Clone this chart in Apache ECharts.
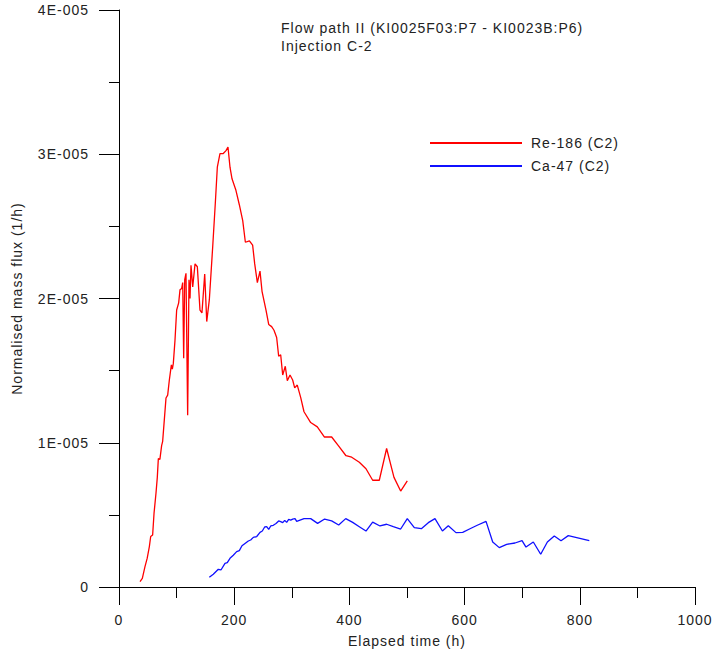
<!DOCTYPE html>
<html>
<head>
<meta charset="utf-8">
<script src="https://cdn.jsdelivr.net/npm/echarts@6/dist/echarts.min.js"></script>
<style>
  html, body { margin: 0; padding: 0; background: #fff; }
  #chart { width: 712px; height: 656px; }
  /* slightly tracked lettering for every label in the chart */
  #chart text { letter-spacing: 1px; }
</style>
</head>
<body>
<div id="chart"></div>
<script>
// Mass flux values are given in units of 1E-006 (1/h)
const FLUX_UNIT = 1e-6;

// Re-186 (C2)
const reTime = [36.5, 40.5, 45, 49, 52.7, 55, 58.4, 60.8, 64.2, 66.5, 68.3, 71, 74, 75.8, 78.7, 81.6, 84.5, 87.4, 90.9, 92.6, 94.3, 97.2, 100.1, 103.6, 105.9, 108.8, 110.6, 112.3, 114.1, 116.3, 119.2, 121.5, 123.3, 125, 128, 132, 136, 140.6, 144, 148.8, 152.3, 156.8, 162.7, 167.2, 170.7, 175.3, 181, 185.8, 189.2, 192.7, 196.2, 203, 208.9, 214.8, 219.4, 226.4, 232, 235.6, 240.2, 244.8, 248.3, 255.2, 259.9, 265, 269.1, 273.7, 277.2, 280.7, 284.2, 288.7, 292.2, 296.9, 301.5, 305, 309.5, 315.4, 321.2, 332.8, 344.3, 356.4, 369.2, 380.8, 394.1, 404, 417.2, 428.8, 440.4, 451.9, 464.6, 477.4, 489, 500.5];
const reFlux = [0.37, 0.6, 1.4, 2.0, 2.8, 3.5, 3.6, 5.1, 6.5, 7.6, 8.9, 8.85, 9.8, 10.1, 11.6, 13.1, 13.3, 14.35, 15.4, 15.1, 15.5, 17.1, 19.2, 19.7, 20.6, 20.7, 21.1, 15.85, 21.3, 21.75, 11.9, 21.3, 20.0, 22.3, 20.8, 22.4, 22.2, 19.2, 19.0, 21.7, 18.4, 19.9, 23.6, 26.6, 29.1, 30.05, 30.05, 30.25, 30.5, 29.1, 28.3, 27.5, 26.5, 25.4, 23.9, 24.0, 23.7, 22.4, 21.1, 21.9, 20.5, 19.2, 18.2, 18.05, 17.8, 17.3, 16.0, 16.1, 14.7, 15.3, 14.3, 14.7, 14.35, 13.8, 14.0, 13.15, 12.15, 11.4, 11.1, 10.4, 10.4, 9.8, 9.1, 9.0, 8.65, 8.2, 7.4, 7.4, 9.6, 7.6, 6.65, 7.35];

// Ca-47 (C2)
const caTime = [156.8, 163.7, 172.4, 177, 184, 188, 192.7, 198.4, 204.3, 208.9, 213.5, 218.8, 224.5, 228.6, 233.2, 239.1, 244.8, 248.8, 252.9, 256.4, 259.9, 263.4, 267.9, 272.6, 277.2, 280.7, 284.2, 287.7, 291.1, 294.6, 298.1, 301.6, 305.6, 308.5, 321.2, 332.8, 344.8, 357, 369.2, 381.4, 393.6, 405.7, 417.2, 428.8, 440.4, 453.1, 464.6, 476.2, 489, 500.5, 512.7, 524.9, 537, 548.6, 561.5, 571.7, 585, 596.7, 609.4, 622, 637.2, 648.8, 660.2, 673, 687.5, 699.7, 706.6, 719.3, 732.1, 743.7, 755.7, 767.4, 780, 816.5];
const caFlux = [0.67, 0.88, 1.23, 1.18, 1.64, 1.69, 1.99, 2.2, 2.45, 2.52, 2.86, 3.02, 3.19, 3.26, 3.44, 3.5, 3.79, 3.88, 4.16, 4.18, 4.0, 4.23, 4.28, 4.4, 4.58, 4.53, 4.46, 4.62, 4.48, 4.69, 4.64, 4.71, 4.74, 4.55, 4.74, 4.74, 4.41, 4.71, 4.58, 4.3, 4.74, 4.48, 4.18, 3.88, 4.5, 4.23, 4.35, 4.18, 4.02, 4.74, 4.11, 4.04, 4.46, 4.74, 3.88, 4.25, 3.77, 3.79, 4.04, 4.28, 4.55, 3.12, 2.73, 2.96, 3.05, 3.21, 2.77, 3.12, 2.27, 3.12, 3.54, 3.21, 3.56, 3.21];

const titleLines = ['Flow path II (KI0025F03:P7 - KI0023B:P6)', 'Injection C-2'];

const pairs = (xs, ys) => xs.map((x, i) => [x, ys[i] * FLUX_UNIT]);

const FONT = '"Liberation Sans", Arial, sans-serif';
const INK = '#222';
const FS = 14;

const chart = echarts.init(document.getElementById('chart'), null, { renderer: 'svg' });

chart.setOption({
  animation: false,
  backgroundColor: '#fff',
  textStyle: { fontFamily: FONT },
  grid: { left: 119, right: 17, top: 10, bottom: 69, containLabel: false, outerBoundsMode: 'none' },
  title: {
    text: titleLines.join('\n'),
    left: 276, top: 14,
    textStyle: { fontFamily: FONT, fontSize: FS, fontWeight: 'normal', color: INK, lineHeight: 18 }
  },
  legend: {
    orient: 'vertical',
    left: 425, top: 131,
    itemWidth: 92, itemHeight: 2, itemGap: 9,
    icon: 'rect',
    textStyle: { fontFamily: FONT, fontSize: FS, color: INK, padding: [0, 0, 0, 4] },
    data: ['Re-186 (C2)', 'Ca-47 (C2)']
  },
  xAxis: {
    type: 'value', min: 0, max: 1000, interval: 200,
    name: 'Elapsed time (h)', nameLocation: 'middle', nameGap: 47,
    nameTextStyle: { fontFamily: FONT, fontSize: FS, color: INK },
    axisLine: { show: true, onZero: false, lineStyle: { color: '#000', width: 1 } },
    axisTick: { show: true, length: 18, lineStyle: { color: '#000' } },
    minorTick: { show: true, splitNumber: 2, length: 11, lineStyle: { color: '#000' } },
    axisLabel: { fontFamily: FONT, fontSize: FS, color: INK, margin: 26, formatter: v => String(v) },
    splitLine: { show: false }
  },
  yAxis: {
    type: 'value', min: 0, max: 4e-5, interval: 1e-5,
    name: 'Normalised mass flux (1/h)', nameLocation: 'middle', nameGap: 95, nameRotate: 90,
    nameTextStyle: { fontFamily: FONT, fontSize: FS, color: INK },
    axisLine: { show: true, lineStyle: { color: '#000', width: 1 } },
    axisTick: { show: true, length: 20, lineStyle: { color: '#000' } },
    minorTick: { show: true, splitNumber: 2, length: 10, lineStyle: { color: '#000' } },
    axisLabel: {
      fontFamily: FONT, fontSize: FS, color: INK, margin: 30,
      formatter: v => v === 0 ? '0' : Math.round(v * 1e5) + 'E-005'
    },
    splitLine: { show: false }
  },
  series: [
    {
      name: 'Re-186 (C2)', type: 'line', data: pairs(reTime, reFlux),
      showSymbol: false, symbol: 'none',
      lineStyle: { color: '#ff0000', width: 1.3 }, itemStyle: { color: '#ff0000' }
    },
    {
      name: 'Ca-47 (C2)', type: 'line', data: pairs(caTime, caFlux),
      showSymbol: false, symbol: 'none',
      lineStyle: { color: '#1010ff', width: 1.3 }, itemStyle: { color: '#1010ff' }
    }
  ]
});
</script>
</body>
</html>
